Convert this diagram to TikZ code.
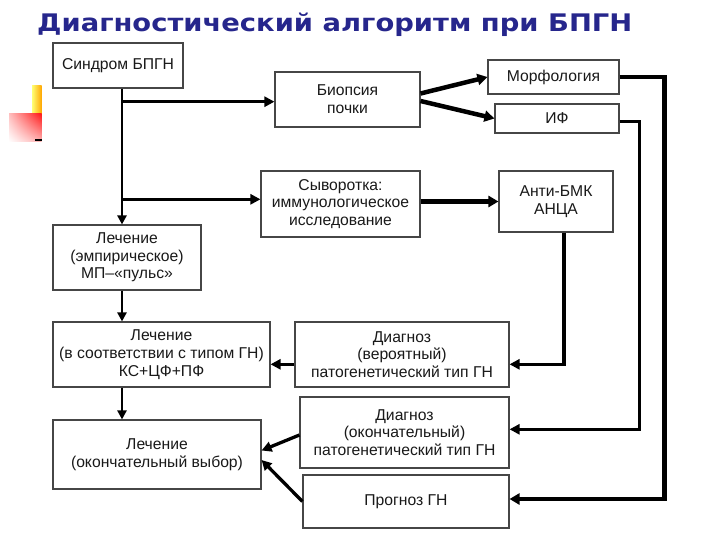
\documentclass[tikz,border=0pt]{standalone}
\usepackage{fontspec}
\setmainfont{Liberation Sans}
\newfontfamily\titlefont{DejaVu Sans}
\usepackage{graphicx}
\usetikzlibrary{arrows.meta,shadows,shadings}
\definecolor{titleblue}{RGB}{38,38,140}
\definecolor{boxline}{RGB}{70,70,70}
\tikzstyle{block}=[rectangle,draw=boxline,line width=1.1pt,fill=white,inner sep=0pt,align=center,
    font=\fontsize{15.7}{17.7}\selectfont,text=black!90,
    drop shadow={shadow xshift=1pt,shadow yshift=-1pt,fill=black!35,opacity=1}]
\tikzstyle{trunk}=[draw,line width=2.6pt,-{Triangle[length=9pt,width=9pt]}]
\tikzstyle{edge}=[draw,line width=3.3pt,-{Triangle[length=10pt,width=10pt]}]
\tikzstyle{heavy}=[draw,line width=4.5pt,-{Triangle[length=10pt,width=11pt]}]

\begin{document}
\begin{tikzpicture}[x=1pt,y=-1pt]
    \useasboundingbox[fill=white] (0,0) rectangle (720,540);
    % Slide decoration and title
    \shade[left color=yellow!55,right color=orange!70!yellow] (32,86) rectangle (41.7,115);
    \shade[upper left=red!25,upper right=red!90,lower left=white,lower right=red!30] (9,114) rectangle (41.7,141.7);
    \fill (35,139) rectangle (41.7,141.5);
    \node[anchor=base west,inner sep=0pt,text=titleblue] (title) at (37,31.5)
        {\resizebox{595pt}{18.5pt}{\titlefont\bfseries Диагностический алгоритм при БПГН}};
    % First we draw the boxes
    \foreach \pos/\name/\w/\h/\txt in {{(118,65.5)/synd/130/45/{Синдром БПГН}},
                            {(347.5,99.5)/biop/145/55/{Биопсия\\почки}},
                            {(553.5,77)/morf/131/34/{Морфология}},
                            {(557,118.5)/fluor/124/29/{ИФ}},
                            {(340.5,204)/syv/159/66/{Сыворотка:\\иммунологическое\\исследование}},
                            {(556,201.5)/anti/114/61/{Анти-БМК\\АНЦА}},
                            {(127,257.5)/lech1/148/65/{Лечение\\(эмпирическое)\\МП–«пульс»}},
                            {(161.5,354.5)/lech2/217/65/{Лечение\\(в соответствии с типом ГН)\\КС+ЦФ+ПФ}},
                            {(402,354.5)/dvero/214/65/{Диагноз\\(вероятный)\\патогенетический тип ГН}},
                            {(157,454.5)/lech3/208/69/{Лечение\\(окончательный выбор)}},
                            {(404.5,432.5)/dokon/209/71/{Диагноз\\(окончательный)\\патогенетический тип ГН}},
                            {(406,501.5)/progn/206/53/{Прогноз ГН}}}
        \node[block,minimum width=\w pt,minimum height=\h pt] (\name) at \pos {\txt};
    % Then the arrows along the left column
    \coordinate (tr) at (122,0);
    \path[trunk] (synd.south -| tr) -- (lech1.north -| tr);
    \path[trunk] (lech1.south -| tr) -- (lech2.north -| tr);
    \path[trunk] (lech2.south -| tr) -- (lech3.north -| tr);
    \path[edge] ([yshift=-2.2pt]biop.west -| tr) -- ([yshift=-2.2pt]biop.west);
    \path[edge] ([yshift=4.7pt]syv.west -| tr) -- ([yshift=4.7pt]syv.west);
    % Heavy arrows out of the biopsy and serum boxes
    \path[heavy] ([yshift=6pt]biop.east) -- (morf.west);
    \path[heavy] ([yshift=-1.5pt]biop.east) -- (fluor.west);
    \path[heavy] (syv.east |- anti.west) -- (anti.west);
    % Lines coming back along the right side
    \path[edge] ([xshift=8pt]anti.south) |- ([yshift=-9.8pt]dvero.east);
    \path[heavy] (morf.east) -- ++(45,0) |- ([yshift=2.5pt]progn.east);
    \path[edge] ([yshift=-3pt]fluor.east) -- ++(20,0) |- ([yshift=3.2pt]dokon.east);
    % Into the treatment boxes
    \path[edge] ([yshift=-9.8pt]dvero.west) -- ([yshift=-9.8pt]lech2.east);
    \path[edge] ([yshift=-2.5pt]dokon.west) -- ([yshift=4pt]lech3.east);
    \path[edge] (progn.west) -- ([yshift=-5.5pt]lech3.east);
\end{tikzpicture}
\end{document}
